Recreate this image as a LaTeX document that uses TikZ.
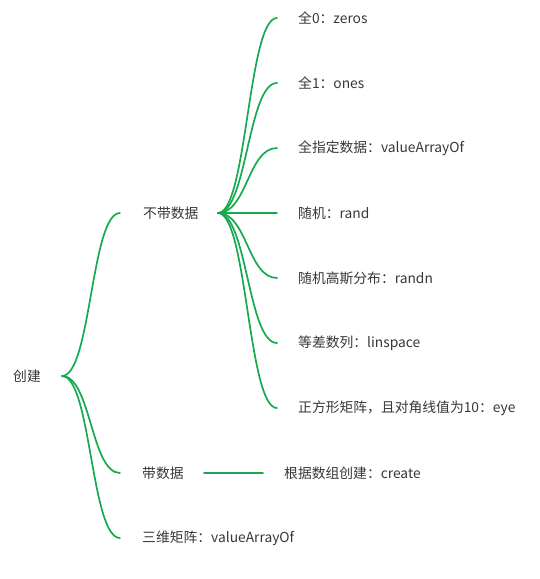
\documentclass[tikz,border=0pt]{standalone}
\usepackage{fontspec}
\setmainfont{Noto Sans CJK SC}
\definecolor{mmgreen}{RGB}{22,170,80}
\definecolor{mmtext}{RGB}{55,55,55}
\tikzset{
  lbl/.style={anchor=west, inner sep=0pt, text=mmtext, font=\fontsize{13.8}{15}\selectfont},
  branch/.style={draw=mmgreen, line width=1.7pt, line cap=round}
}
\begin{document}
\begin{tikzpicture}[x=1pt,y=-1pt]
\useasboundingbox (0,0) rectangle (539,579);
% labels
\node[lbl] (root) at (13,376) {创建};
\node[lbl] (nd) at (143,213) {不带数据};
\node[lbl] (wd) at (142,473) {带数据};
\node[lbl] (sw) at (142,538) {三维矩阵：valueArrayOf};
\node[lbl] (c1) at (298,18) {全0：zeros};
\node[lbl] (c2) at (298,83) {全1：ones};
\node[lbl] (c3) at (298,148) {全指定数据：valueArrayOf};
\node[lbl] (c4) at (298,213) {随机：rand};
\node[lbl] (c5) at (298,278) {随机高斯分布：randn};
\node[lbl] (c6) at (298,343) {等差数列：linspace};
\node[lbl] (c7) at (298,408) {正方形矩阵，且对角线值为10：eye};
\node[lbl] (cr) at (284,473) {根据数组创建：create};
% connector points
\coordinate (rootR) at (62,376);
\coordinate (ndL) at (120,213);
\coordinate (wdL) at (120,473);
\coordinate (swL) at (120,538);
\coordinate (ndR) at (218,213);
\coordinate (wdR) at (204,473);
\coordinate (crL) at (263,473);
\coordinate (e1) at (277,18);
\coordinate (e2) at (277,83);
\coordinate (e3) at (277,148);
\coordinate (e4) at (277,213);
\coordinate (e5) at (277,278);
\coordinate (e6) at (277,343);
\coordinate (e7) at (277,408);
% connectors
\foreach \t in {ndL,wdL,swL}
  \draw[branch] (rootR) .. controls +(29,0) and +(-29,0) .. (\t);
\foreach \t in {e1,e2,e3,e4,e5,e6,e7}
  \draw[branch] (ndR) .. controls +(29,0) and +(-29,0) .. (\t);
\draw[branch] (wdR) -- (crL);
\end{tikzpicture}
\end{document}
